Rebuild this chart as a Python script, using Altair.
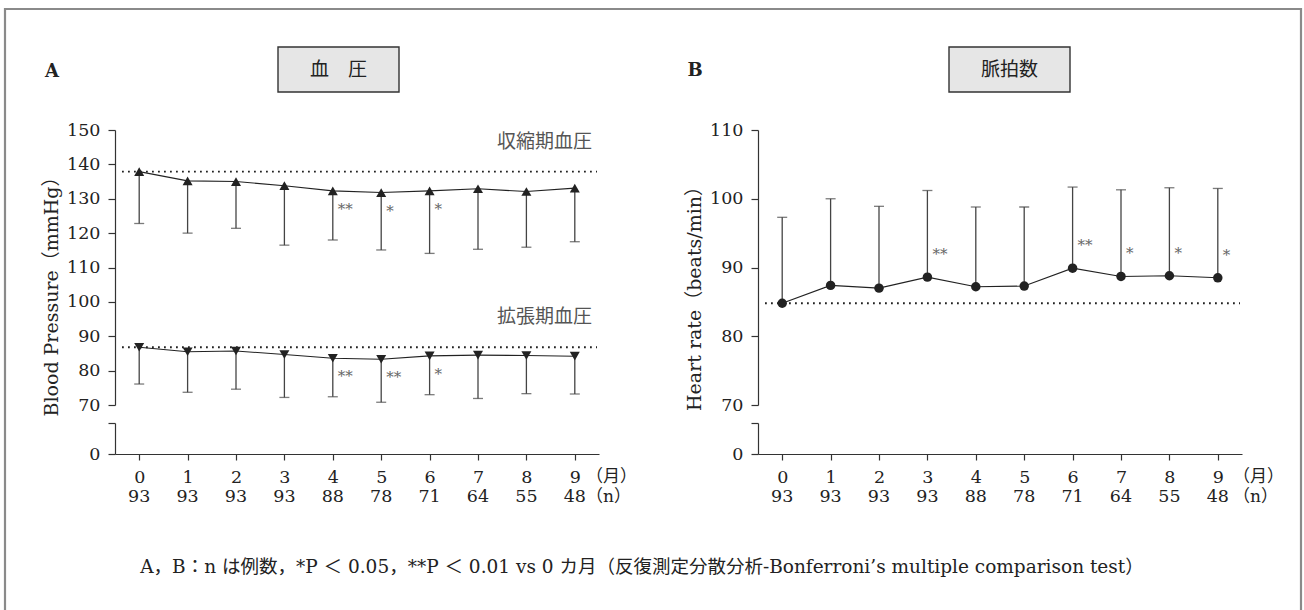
import altair as alt
import pandas as pd

# ---- data ---------------------------------------------------------------
months = list(range(10))
n_cases = [93, 93, 93, 93, 88, 78, 71, 64, 55, 48]

sbp_mean = [137.9, 135.2, 135.0, 133.8, 132.3, 131.8, 132.3, 132.9, 132.1, 133.1]
sbp_low = [122.8, 120.0, 121.4, 116.5, 118.0, 115.1, 114.1, 115.3, 115.9, 117.5]
sbp_sig = ["", "", "", "", "**", "*", "*", "", "", ""]

dbp_mean = [86.8, 85.5, 85.7, 84.7, 83.6, 83.3, 84.3, 84.5, 84.4, 84.2]
dbp_low = [76.1, 73.7, 74.6, 72.2, 72.4, 70.8, 73.0, 71.9, 73.3, 73.2]
dbp_sig = ["", "", "", "", "**", "**", "*", "", "", ""]

hr_mean = [84.8, 87.4, 87.0, 88.6, 87.2, 87.3, 89.9, 88.7, 88.8, 88.5]
hr_high = [97.3, 100.0, 98.9, 101.2, 98.8, 98.8, 101.7, 101.3, 101.6, 101.5]
hr_sig = ["", "", "", "**", "", "", "**", "*", "*", "*"]

bp_ticks = [70, 80, 90, 100, 110, 120, 130, 140, 150]
hr_ticks = [70, 80, 90, 100, 110]

bp = pd.DataFrame({"month": months, "n": n_cases,
                   "sbp": sbp_mean, "sbp_lo": sbp_low, "sbp_sig": sbp_sig,
                   "dbp": dbp_mean, "dbp_lo": dbp_low, "dbp_sig": dbp_sig})
hr = pd.DataFrame({"month": months, "n": n_cases,
                   "hr": hr_mean, "hr_hi": hr_high, "hr_sig": hr_sig})

# ---- layout / style ----------------------------------------------------
W, H = 1304, 610
SERIF = "DejaVu Serif"
MIXED = "DejaVu Serif, Noto Sans CJK JP"
CJK = "Noto Sans CJK JP"
INK = "#222222"
AXIS_Y = 454
UPPER = [405, 130]
LOWER = [454, 423]


def x_enc(x0, x1):
    return alt.X("month:Q",
                 scale=alt.Scale(domain=[-0.5, 9.5], range=[x0, x1], nice=False, zero=False),
                 axis=alt.Axis(values=months, format="d", orient="bottom", offset=AXIS_Y - H,
                               title=None, tickSize=6, labelPadding=17, labelBaseline="middle"))


def y_axis(left, values, **kw):
    return alt.Axis(values=values, orient="left", offset=-left, title=None,
                    tickSize=7, labelPadding=8, **kw)


def upper_y(field, domain, left, values):
    return alt.Y(f"{field}:Q",
                 scale=alt.Scale(domain=domain, range=UPPER, nice=False, zero=False),
                 axis=y_axis(left, values))


def lower_segment(left):
    # short stub below the axis break, carrying only the 0 tick
    return alt.Chart(pd.DataFrame({"v": [0, 1]})).mark_point(opacity=0).encode(
        y=alt.Y("v:Q", scale=alt.Scale(domain=[0, 1], range=LOWER, nice=False, zero=False),
                axis=y_axis(left, [0, 1], labelExpr="datum.value == 0 ? '0' : ''")))


# ---- panel A: blood pressure -------------------------------------------
A_LEFT, A_RIGHT = 115, 599
xa = x_enc(A_LEFT, A_RIGHT)
bp_dom = [70, 150]
base_a = alt.Chart(bp)


def bp_series(mean, low, sig, shape, star_dy):
    y = upper_y(mean, bp_dom, A_LEFT, bp_ticks)
    ref = base_a.transform_filter("datum.month == 0").mark_rule(
        color=INK, strokeWidth=1.8, strokeDash=[1.8, 4.2]).encode(
        y=y, x=alt.value(122), x2=alt.value(597))
    bar = base_a.mark_rule(color="#444", strokeWidth=1.3).encode(
        x=xa, y=y, y2=alt.Y2(f"{low}:Q"))
    cap = base_a.mark_tick(orient="horizontal", color="#444", size=10, thickness=1.3).encode(
        x=xa, y=upper_y(low, bp_dom, A_LEFT, bp_ticks))
    line = base_a.mark_line(color=INK, strokeWidth=1.1).encode(x=xa, y=y)
    pts = base_a.mark_point(shape=shape, filled=True, size=100, color=INK, opacity=1).encode(x=xa, y=y)
    stars = base_a.mark_text(align="left", baseline="middle", dx=5, dy=star_dy, font=SERIF,
                             fontSize=15, color="#666").encode(x=xa, y=y, text=f"{sig}:N")
    return [ref, bar, cap, line, pts, stars]


n_a = base_a.mark_text(font=SERIF, fontSize=17.5, color=INK, baseline="middle").encode(
    x=xa, y=alt.value(497), text="n:Q")

panel_a = alt.layer(*bp_series("sbp", "sbp_lo", "sbp_sig", "triangle-up", 18),
                    *bp_series("dbp", "dbp_lo", "dbp_sig", "triangle-down", 18),
                    n_a)

# ---- panel B: heart rate -----------------------------------------------
B_LEFT, B_RIGHT = 758, 1242
xb = x_enc(B_LEFT, B_RIGHT)
hr_dom = [70, 110]
base_b = alt.Chart(hr)
yb = upper_y("hr", hr_dom, B_LEFT, hr_ticks)

ref_b = base_b.transform_filter("datum.month == 0").mark_rule(
    color=INK, strokeWidth=1.8, strokeDash=[1.8, 4.2]).encode(
    y=yb, x=alt.value(765), x2=alt.value(1240))
bar_b = base_b.mark_rule(color="#444", strokeWidth=1.3).encode(x=xb, y=yb, y2=alt.Y2("hr_hi:Q"))
cap_b = base_b.mark_tick(orient="horizontal", color="#444", size=10, thickness=1.3).encode(
    x=xb, y=upper_y("hr_hi", hr_dom, B_LEFT, hr_ticks))
line_b = base_b.mark_line(color=INK, strokeWidth=1.1).encode(x=xb, y=yb)
pts_b = base_b.mark_circle(size=90, color=INK, opacity=1).encode(x=xb, y=yb)
stars_b = base_b.mark_text(align="left", baseline="middle", dx=5, dy=-23, font=SERIF,
                           fontSize=15, color="#666").encode(x=xb, y=yb, text="hr_sig:N")
n_b = base_b.mark_text(font=SERIF, fontSize=17.5, color=INK, baseline="middle").encode(
    x=xb, y=alt.value(497), text="n:Q")

panel_b = alt.layer(ref_b, bar_b, cap_b, line_b, pts_b, stars_b, n_b)

# ---- frame, headings, captions -----------------------------------------
one = alt.Chart(pd.DataFrame({"k": [0]}))


def label(text, x, y, **kw):
    style = dict(font=MIXED, fontSize=18, color=INK, align="left", baseline="middle")
    style.update(kw)
    return one.mark_text(text=text, **style).encode(x=alt.value(x), y=alt.value(y))


def box(x0, x1, y0, y1, **kw):
    return one.mark_rect(**kw).encode(x=alt.value(x0), x2=alt.value(x1),
                                      y=alt.value(y0), y2=alt.value(y1))


deco = alt.layer(
    box(5, 1301, 9, 640, fill="white", fillOpacity=0, stroke="#8a8a8a", strokeWidth=2.2),
    box(278, 399, 47, 92, fill="#e6e6e6", stroke="#333", strokeWidth=1.4),
    box(949, 1070, 47, 92, fill="#e6e6e6", stroke="#333", strokeWidth=1.4),
    label("血　圧", 338.5, 70, font=CJK, fontSize=19, align="center"),
    label("脈拍数", 1009.5, 70, font=CJK, fontSize=19, align="center"),
    label("A", 52, 72, font=SERIF, fontWeight="bold", fontSize=18, align="center"),
    label("B", 695, 71, font=SERIF, fontWeight="bold", fontSize=18, align="center"),
    label("収縮期血圧", 592, 142, font=CJK, fontSize=19, align="right", color="#555"),
    label("拡張期血圧", 592, 317, font=CJK, fontSize=19, align="right", color="#555"),
    label("Blood Pressure（mmHg）", 52, 292, fontSize=19, angle=270, align="center"),
    label("Heart rate（beats/min）", 695, 294, fontSize=19, angle=270, align="center"),
    label("（月）", 586, 477, font=CJK, fontSize=17),
    label("（n）", 586, 497, font=MIXED, fontSize=17),
    label("（月）", 1233, 477, font=CJK, fontSize=17),
    label("（n）", 1233, 497, font=MIXED, fontSize=17),
    label("A，B：n は例数，*P ＜ 0.05，**P ＜ 0.01 vs 0 カ月（反復測定分散分析-Bonferroni’s multiple comparison test）",
          642, 567, fontSize=18.5, align="center"),
)

chart = alt.layer(
    deco,
    panel_a, lower_segment(A_LEFT),
    panel_b, lower_segment(B_LEFT),
).resolve_scale(x="independent", y="independent").properties(
    width=W, height=H, padding=0, autosize=alt.AutoSizeParams(type="none"),
    background="white",
).configure_view(stroke=None).configure_axis(
    grid=False, zindex=1, labelFont=SERIF, labelFontSize=17.5, labelColor=INK,
    domainColor="#333", tickColor="#333", domainWidth=1.2, tickWidth=1.2,
)

chart.save("out.html", embed_options={"renderer": "svg", "actions": False})
